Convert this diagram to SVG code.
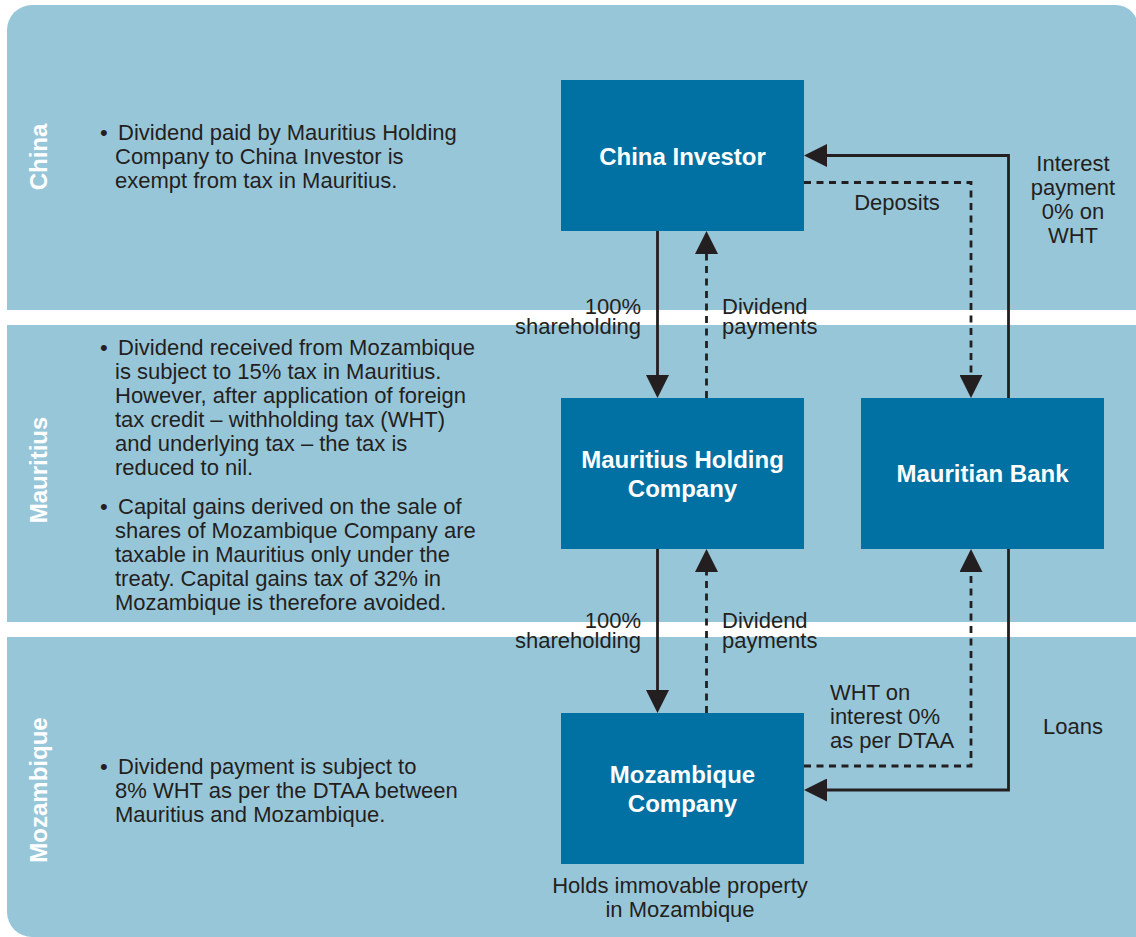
<svg xmlns="http://www.w3.org/2000/svg" width="1136" height="937" viewBox="0 0 1136 937">
<style>
.band{fill:#98c6d9}
.box{fill:#0071a2}
.bt{font-family:"Liberation Sans",Arial,sans-serif;font-size:24px;font-weight:bold;fill:#ffffff;text-anchor:middle}
.vl{font-family:"Liberation Sans",Arial,sans-serif;font-size:24px;font-weight:bold;fill:#ffffff;text-anchor:middle}
.tx{font-family:"Liberation Sans",Arial,sans-serif;font-size:22px;fill:#231f20}
.mid{text-anchor:middle}
.end{text-anchor:end}
.ln{fill:none;stroke:#231f20;stroke-width:2.8}
.dash{stroke-dasharray:7 5.5}
</style>
<defs>
<marker id="ah" viewBox="0 0 23 23" refX="0" refY="11.5" markerWidth="23" markerHeight="23" markerUnits="userSpaceOnUse" orient="auto">
<path d="M0,0 L23,11.5 L0,23 Z" fill="#231f20"/>
</marker>
</defs>
<g id="background">
<path class="band" d="M7,30 A25,25 0 0 1 32,5 H1116 A22,22 0 0 1 1138,27 V310 H7 Z"/>
<rect class="band" x="7" y="325" width="1131" height="297"/>
<path class="band" d="M7,637 H1138 V937 H32 A25,25 0 0 1 7,912 Z"/>
</g>
<g id="region-labels">
<text class="vl" transform="translate(47,157) rotate(-90)">China</text>
<text class="vl" transform="translate(47,470) rotate(-90)">Mauritius</text>
<text class="vl" transform="translate(47,790) rotate(-90)">Mozambique</text>
</g>
<g id="notes" class="tx">
<text x="100" y="140">•</text>
<text x="118" y="140">Dividend paid by Mauritius Holding</text>
<text x="115" y="164">Company to China Investor is</text>
<text x="115" y="188">exempt from tax in Mauritius.</text>
<text x="100" y="355">•</text>
<text x="118" y="355">Dividend received from Mozambique</text>
<text x="115" y="379">is subject to 15% tax in Mauritius.</text>
<text x="115" y="403">However, after application of foreign</text>
<text x="115" y="427">tax credit – withholding tax (WHT)</text>
<text x="115" y="451">and underlying tax – the tax is</text>
<text x="115" y="475">reduced to nil.</text>
<text x="100" y="514">•</text>
<text x="118" y="514">Capital gains derived on the sale of</text>
<text x="115" y="538">shares of Mozambique Company are</text>
<text x="115" y="562">taxable in Mauritius only under the</text>
<text x="115" y="586">treaty. Capital gains tax of 32% in</text>
<text x="115" y="610">Mozambique is therefore avoided.</text>
<text x="100" y="774">•</text>
<text x="118" y="774">Dividend payment is subject to</text>
<text x="115" y="798">8% WHT as per the DTAA between</text>
<text x="115" y="822">Mauritius and Mozambique.</text>
</g>
<g id="connectors">
<path class="ln" d="M657.5,231 V375" marker-end="url(#ah)"/>
<path class="ln dash" d="M706.5,398 V254" marker-end="url(#ah)"/>
<path class="ln" d="M657.5,549 V690" marker-end="url(#ah)"/>
<path class="ln dash" d="M706.5,713 V572" marker-end="url(#ah)"/>
<path class="ln dash" d="M804,182.5 H971 V375" marker-end="url(#ah)"/>
<path class="ln" d="M1008.5,398 V155.5 H827" marker-end="url(#ah)"/>
<path class="ln dash" d="M804,766 H971 V572" marker-end="url(#ah)"/>
<path class="ln" d="M1008.5,549 V790 H827" marker-end="url(#ah)"/>
</g>
<g id="connector-labels" class="tx">
<text class="end" x="641" y="314">100%</text>
<text class="end" x="641" y="334">shareholding</text>
<text x="722" y="314">Dividend</text>
<text x="722" y="334">payments</text>
<text class="end" x="641" y="628">100%</text>
<text class="end" x="641" y="648">shareholding</text>
<text x="722" y="628">Dividend</text>
<text x="722" y="648">payments</text>
<text class="mid" x="897" y="210">Deposits</text>
<text class="mid" x="1073" y="171">Interest</text>
<text class="mid" x="1073" y="195">payment</text>
<text class="mid" x="1073" y="219">0% on</text>
<text class="mid" x="1073" y="243">WHT</text>
<text x="830" y="700">WHT on</text>
<text x="830" y="724">interest 0%</text>
<text x="830" y="748">as per DTAA</text>
<text class="mid" x="1073" y="734">Loans</text>
</g>
<g id="china-investor">
<rect class="box" x="561" y="80" width="243" height="151"/>
<text class="bt" x="682.5" y="165">China Investor</text>
</g>
<g id="mauritius-holding-company">
<rect class="box" x="561" y="398" width="243" height="151"/>
<text class="bt" x="682.5" y="468">Mauritius Holding</text>
<text class="bt" x="682.5" y="497">Company</text>
</g>
<g id="mauritian-bank">
<rect class="box" x="861" y="398" width="243" height="151"/>
<text class="bt" x="982.5" y="482">Mauritian Bank</text>
</g>
<g id="mozambique-company">
<rect class="box" x="561" y="713" width="243" height="151"/>
<text class="bt" x="682.5" y="783">Mozambique</text>
<text class="bt" x="682.5" y="812">Company</text>
<text class="tx mid" x="680" y="893">Holds immovable property</text>
<text class="tx mid" x="680" y="917">in Mozambique</text>
</g>
</svg>
